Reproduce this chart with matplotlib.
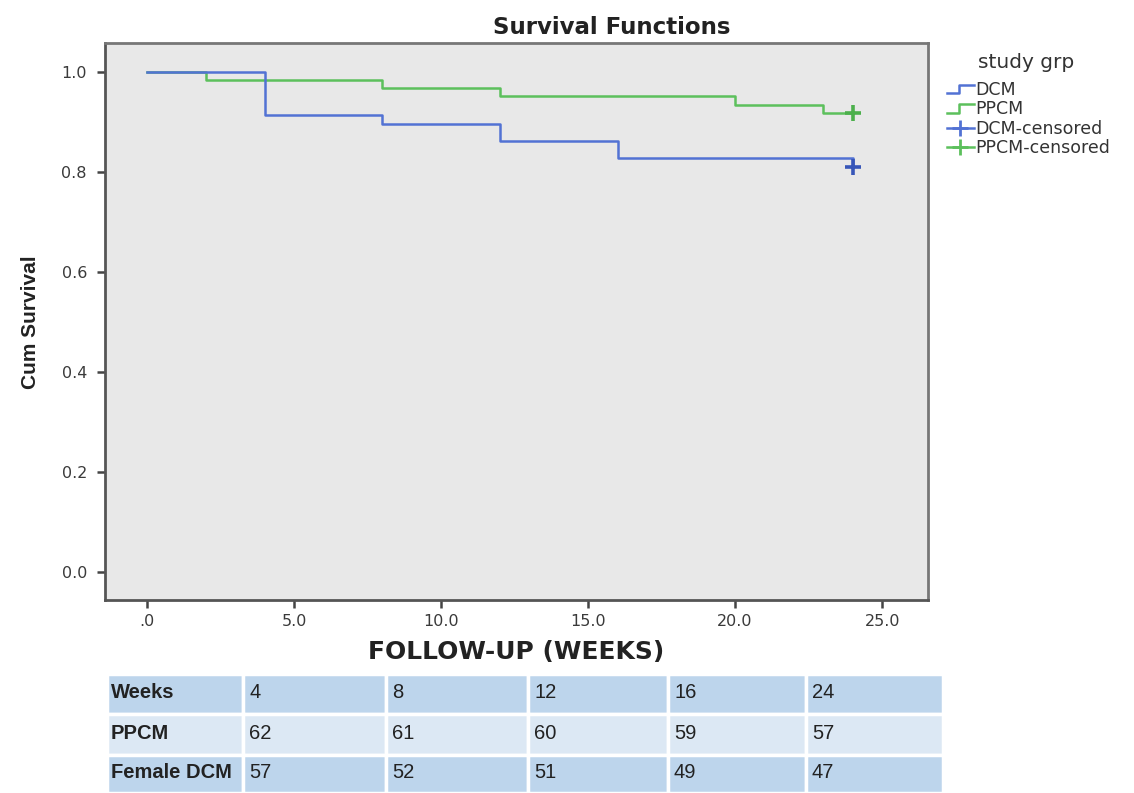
import matplotlib
matplotlib.use("Agg")
import matplotlib.pyplot as plt
from matplotlib.lines import Line2D
from matplotlib.legend_handler import HandlerBase
from matplotlib.patches import Rectangle

# ---------------- data ----------------
dcm_times = [0, 4, 8, 12, 16, 24]
dcm_surv = [1.0, 0.914, 0.897, 0.862, 0.828, 0.810]
ppcm_times = [0, 2, 8, 12, 20, 23, 24]
ppcm_surv = [1.0, 0.984, 0.968, 0.952, 0.935, 0.919, 0.919]
dcm_censor = (24, 0.810)
ppcm_censor = (24, 0.919)

x_ticks = [0, 5, 10, 15, 20, 25]
x_tick_labels = [".0", "5.0", "10.0", "15.0", "20.0", "25.0"]
y_ticks = [0.0, 0.2, 0.4, 0.6, 0.8, 1.0]
y_tick_labels = ["0.0", "0.2", "0.4", "0.6", "0.8", "1.0"]

table_header = ["Weeks", "4", "8", "12", "16", "24"]
table_ppcm = ["PPCM", "62", "61", "60", "59", "57"]
table_dcm = ["Female DCM", "57", "52", "51", "49", "47"]

legend_labels = ["DCM", "PPCM", "DCM-censored", "PPCM-censored"]

BLUE = "#5272d4"
GREEN = "#5cc05c"
BLUE_C = "#3856b8"
GREEN_C = "#4cb04c"

plt.rcParams['font.family'] = ['DejaVu Sans']

fig = plt.figure(figsize=(11.34, 7.93), dpi=100)
W, H = 1134, 793

def fx(px):
    return px / W

def fy(py):
    return 1 - py / H

ax = fig.add_axes([fx(105), fy(600), fx(928) - fx(105), fy(43) - fy(600)])
ax.set_facecolor("#e8e8e8")
ax.set_xlim(-1.43, 26.56)
ax.set_ylim(-0.056, 1.058)

ax.step(ppcm_times, ppcm_surv, where="post", color=GREEN, lw=1.8)
ax.step(dcm_times, dcm_surv, where="post", color=BLUE, lw=1.8)
ax.plot([ppcm_censor[0]], [ppcm_censor[1]], marker="+", color=GREEN_C, ms=12, mew=2.6, ls="none")
ax.plot([dcm_censor[0]], [dcm_censor[1]], marker="+", color=BLUE_C, ms=12, mew=2.6, ls="none")

ax.set_xticks(x_ticks)
ax.set_xticklabels(x_tick_labels)
ax.set_yticks(y_ticks)
ax.set_yticklabels(y_tick_labels)
ax.tick_params(axis="x", direction="out", length=6, width=1.8, color="#444444",
               labelsize=11.5, labelcolor="#3a3a3a", pad=4)
ax.tick_params(axis="y", direction="out", length=6, width=1.8, color="#444444",
               labelsize=11.5, labelcolor="#3a3a3a", pad=7)

for s in ["left", "bottom"]:
    ax.spines[s].set_color("#555555")
    ax.spines[s].set_linewidth(2.0)
for s in ["top", "right"]:
    ax.spines[s].set_color("#777777")
    ax.spines[s].set_linewidth(2.0)

fig.text(fx(612), fy(27), "Survival Functions", ha="center", va="center",
         fontsize=16.5, fontweight="bold", color="#222222")
fig.text(fx(516), fy(652), "FOLLOW-UP (WEEKS)", ha="center", va="center",
         fontsize=18, fontweight="bold", color="#222222")
fig.text(fx(31), fy(322), "Cum Survival", ha="center", va="center", rotation=90,
         fontsize=15, fontweight="bold", color="#222222",
         family=["Liberation Sans", "DejaVu Sans"])


class StepHandler(HandlerBase):
    def create_artists(self, legend, orig_handle, xdescent, ydescent, width, height, fontsize, trans):
        c = orig_handle.get_color()
        xs = [0 - xdescent, width * 0.45 - xdescent, width * 0.45 - xdescent, width - xdescent]
        y0 = height * 0.15 - ydescent
        y1 = height * 0.85 - ydescent
        ln = Line2D(xs, [y0, y0, y1, y1], color=c, lw=1.8, transform=trans)
        return [ln]


h_dcm = Line2D([], [], color=BLUE)
h_ppcm = Line2D([], [], color=GREEN)
h_dcm_c = Line2D([], [], color=BLUE, marker="+", ms=11, mew=2.0, lw=1.8)
h_ppcm_c = Line2D([], [], color=GREEN, marker="+", ms=11, mew=2.0, lw=1.8)

leg = fig.legend([h_dcm, h_ppcm, h_dcm_c, h_ppcm_c], legend_labels,
                 loc="upper left", bbox_to_anchor=(fx(947), fy(81)),
                 frameon=False, fontsize=12.5,
                 handlelength=1.55, handletextpad=0.08, labelspacing=0.08,
                 borderaxespad=0, borderpad=0,
                 handler_map={h_dcm: StepHandler(), h_ppcm: StepHandler()})
for t in leg.get_texts():
    t.set_color("#333333")
fig.text(fx(978), fy(63), "study grp", ha="left", va="center",
         fontsize=14.5, color="#333333")

# ---------------- table ----------------
col_edges = [107, 243, 386, 528, 668, 806, 943]
row_edges = [674, 714, 755, 793]
rows = [table_header, table_ppcm, table_dcm]
row_colors = ["#bdd5ec", "#dce8f4", "#bdd5ec"]
for r, row in enumerate(rows):
    for c, val in enumerate(row):
        x0, x1 = col_edges[c], col_edges[c + 1]
        y0, y1 = row_edges[r], row_edges[r + 1]
        rect = Rectangle((fx(x0), fy(y1)), fx(x1) - fx(x0), fy(y0) - fy(y1),
                         transform=fig.transFigure, facecolor=row_colors[r],
                         edgecolor="white", lw=2.5)
        fig.add_artist(rect)
        pad = 4 if c == 0 else 6
        fig.text(fx(x0 + pad), fy((y0 + y1) / 2 - 1), val, ha="left", va="center",
                 fontsize=14.5, fontweight="bold" if c == 0 else "normal",
                 color="#222222",
                 family=["Liberation Sans", "DejaVu Sans"])

fig.savefig("out.png", dpi=100)
